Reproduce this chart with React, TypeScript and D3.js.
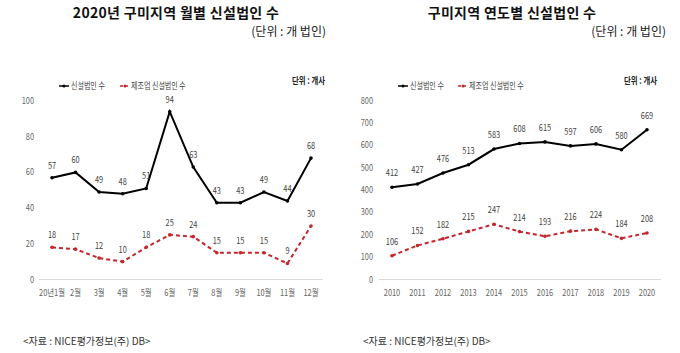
import React from "react";
import * as d3 from "d3";

// 2020 monthly
const months = ["20년1월", "2월", "3월", "4월", "5월", "6월", "7월", "8월", "9월", "10월", "11월", "12월"];
const monthlyTotal = [57, 60, 49, 48, 51, 94, 63, 43, 43, 49, 44, 68];
const monthlyMfg = [18, 17, 12, 10, 18, 25, 24, 15, 15, 15, 9, 30];
const monthlyTicks = [0, 20, 40, 60, 80, 100];

// yearly
const years = ["2010", "2011", "2012", "2013", "2014", "2015", "2016", "2017", "2018", "2019", "2020"];
const yearlyTotal = [412, 427, 476, 513, 583, 608, 615, 597, 606, 580, 669];
const yearlyMfg = [106, 152, 182, 215, 247, 214, 193, 216, 224, 184, 208];
const yearlyTicks = [0, 100, 200, 300, 400, 500, 600, 700, 800];

const RED = "#c3262b";
const KR = "'Noto Sans CJK KR', 'Noto Sans', sans-serif";

// condensed-looking text (source uses a narrow face)
function NText(props: { x: number; y: number; anchor?: string; size?: number; fill?: string; weight?: string; children: React.ReactNode }) {
  return (
    <text
      transform={`translate(${props.x},${props.y}) scale(0.78,1)`}
      textAnchor={props.anchor || "middle"}
      fontSize={props.size || 9.5}
      fontFamily={KR}
      fontWeight={props.weight || "normal"}
      fill={props.fill || "#555"}
    >
      {props.children}
    </text>
  );
}

type PanelProps = {
  x0: number;
  title: string;
  titleX: number;
  cats: string[];
  total: number[];
  mfg: number[];
  ticks: number[];
  yMax: number;
  xFirst: number;
  xLast: number;
  axisLeft: number;
  axisRight: number;
  tickX: number;
  yTop: number;
  legend: number[];
  unitX: number;
  labelOff: number;
};

function Panel(p: PanelProps) {
  const x = d3.scalePoint<string>().domain(p.cats).range([p.xFirst, p.xLast]);
  const y = d3.scaleLinear().domain([0, p.yMax]).range([279.5, p.yTop]);
  const line = d3
    .line<number>()
    .x((_, i) => x(p.cats[i]) as number)
    .y((d) => y(d));

  return (
    <g>
      <text x={p.titleX} y={18} textAnchor="middle" fontSize={14} fontWeight="bold" fontFamily={KR} fill="#111" letterSpacing={0.3}>
        {p.title}
      </text>
      <text x={p.x0 + 326} y={36} textAnchor="end" fontSize={12} fontFamily={KR} fill="#222">
        (단위 : 개 법인)
      </text>

      {/* legend */}
      <line x1={p.legend[0]} x2={p.legend[0] + 10} y1={86} y2={86} stroke="#000" strokeWidth={1.5} />
      <circle cx={p.legend[0] + 5} cy={86} r={1.5} fill="#000" />
      <NText x={p.legend[0] + 12} y={89} anchor="start" size={9} fill="#444">신설법인 수</NText>
      <line x1={p.legend[1]} x2={p.legend[1] + 9} y1={86} y2={86} stroke={RED} strokeWidth={1.5} strokeDasharray="3,2" />
      <circle cx={p.legend[1] + 5} cy={86} r={1.5} fill={RED} />
      <NText x={p.legend[1] + 11} y={89} anchor="start" size={9} fill="#444">제조업 신설법인 수</NText>
      <NText x={p.unitX} y={84} anchor="end" size={9.5} weight="bold" fill="#222">단위 : 개사</NText>

      {/* y ticks */}
      {p.ticks.map((t) => (
        <NText key={t} x={p.tickX} y={y(t) + 3} anchor="end" fill="#666">
          {t}
        </NText>
      ))}
      <line x1={p.axisLeft} x2={p.axisRight} y1={y(0)} y2={y(0)} stroke="#d9d9d9" strokeWidth={1} />
      {p.cats.map((c) => (
        <NText key={c} x={x(c) as number} y={296} fill="#666">
          {c}
        </NText>
      ))}

      {/* series */}
      <path d={line(p.total) || ""} fill="none" stroke="#000" strokeWidth={2} />
      <path d={line(p.mfg) || ""} fill="none" stroke={RED} strokeWidth={2} strokeDasharray="4,3" />
      {p.total.map((v, i) => (
        <g key={"t" + i}>
          <circle cx={x(p.cats[i])} cy={y(v)} r={1.8} fill="#000" />
          <NText x={x(p.cats[i]) as number} y={y(v) - p.labelOff} fill="#444">
            {v}
          </NText>
        </g>
      ))}
      {p.mfg.map((v, i) => (
        <g key={"m" + i}>
          <circle cx={x(p.cats[i])} cy={y(v)} r={1.8} fill={RED} />
          <NText x={x(p.cats[i]) as number} y={y(v) - p.labelOff} fill="#444">
            {v}
          </NText>
        </g>
      ))}

      <text x={p.x0 + 23} y={345} fontSize={10} fontFamily={KR} fill="#333">
        {"<자료 : NICE평가정보(주) DB>"}
      </text>
    </g>
  );
}

export default function App() {
  return (
    <svg width={680} height={353} style={{ display: "block", position: "absolute", left: 0, top: 0, background: "#fff" }}>
      <rect width={680} height={353} fill="#fff" />
      <Panel
        x0={0}
        title="2020년 구미지역 월별 신설법인 수"
        titleX={176}
        cats={months}
        total={monthlyTotal}
        mfg={monthlyMfg}
        ticks={monthlyTicks}
        yMax={100}
        xFirst={52}
        xLast={311}
        axisLeft={39}
        axisRight={323}
        tickX={34}
        yTop={101}
        legend={[59, 120]}
        unitX={325}
        labelOff={9}
      />
      <Panel
        x0={340}
        title="구미지역 연도별 신설법인 수"
        titleX={512}
        cats={years}
        total={yearlyTotal}
        mfg={yearlyMfg}
        ticks={yearlyTicks}
        yMax={800}
        xFirst={392}
        xLast={647}
        axisLeft={379}
        axisRight={661}
        tickX={373}
        yTop={100.5}
        legend={[398, 458]}
        unitX={657}
        labelOff={11}
      />
    </svg>
  );
}
